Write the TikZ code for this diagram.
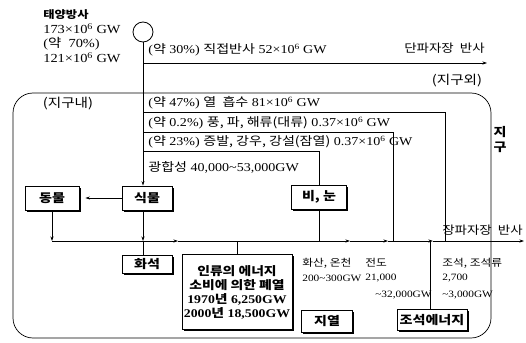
\documentclass[tikz,border=0pt]{standalone}
\usepackage{fontspec}
\setmainfont{Liberation Serif}[FakeStretch=1.17]
\newfontfamily\kr{Noto Sans CJK KR}[FakeStretch=1.17]
\usepackage{tikz}
\usetikzlibrary{arrows.meta,shadows}

\tikzset{
  ebox/.style={draw,fill=white,line width=0.9pt,inner sep=0pt,minimum height=24pt,
    font=\fontsize{12}{14}\selectfont\kr\bfseries,
    drop shadow={shadow xshift=1.8pt,shadow yshift=-1.8pt,fill=black,opacity=1}},
  lbl/.style={anchor=west,inner sep=0pt},
  lblc/.style={inner sep=0pt},
  small/.style={anchor=west,inner sep=0pt,font=\fontsize{9.7}{11}\selectfont},
  smallkr/.style={anchor=west,inner sep=0pt,font=\fontsize{10}{12}\selectfont\kr}
}

\begin{document}
\begin{tikzpicture}[x=1pt,y=-1pt,>={Stealth[length=4.5pt,width=3pt]},line width=0.7pt,
  font=\fontsize{12}{14}\selectfont]
\useasboundingbox (0,0) rectangle (526,342);

% sun and its numbers
\node[draw,circle,minimum size=20pt,inner sep=0pt,line width=0.8pt] (sun) at (143,32) {};
\node[lbl,font=\fontsize{10.5}{13}\selectfont\kr\bfseries] (suntxt) at (43,15) {태양방사};
\node[lbl,font=\fontsize{12.3}{15}\selectfont] (sun173) at (43,29) {173×10\textsuperscript{6} GW};
\node[lbl,font=\fontsize{12.3}{15}\selectfont] (sun70) at (43,44) {({\kr 약}\ \ 70\%)};
\node[lbl,font=\fontsize{12.3}{15}\selectfont] (sun121) at (43,58) {121×10\textsuperscript{6} GW};

% direct reflection
\coordinate (d30) at (143,63);
\coordinate (out30) at (487,63);
\node[lbl] (r30) at (148,50) {({\kr 약} 30\%) {\kr 직접반사} 52×10\textsuperscript{6} GW};
\node[anchor=east,inner sep=0pt,font=\fontsize{11.5}{14}\selectfont\kr] (short) at (485,48) {단파자장\ \ 반사};
\node[lblc,font=\fontsize{12.5}{15}\selectfont\kr] (outer) at (457,81) {(지구외)};
\draw[->] (d30) -- (out30);

% the earth
\draw[rounded corners=20pt] (13,93) rectangle (491,338);
\node[lblc,font=\fontsize{12.5}{15}\selectfont\kr] (inner) at (68,104) {(지구내)};
\node[lblc,font=\fontsize{12}{14}\selectfont\kr\bfseries] (earth1) at (500,132) {지};
\node[lblc,font=\fontsize{12}{14}\selectfont\kr\bfseries] (earth2) at (500,147) {구};

% rows
\node[lbl] (r47) at (148,103) {({\kr 약} 47\%) {\kr 열\ \ 흡수} 81×10\textsuperscript{6}\ GW};
\node[lbl] (r02) at (148,123) {({\kr 약} 0.2\%) {\kr 풍, 파, 해류(대류)} 0.37×10\textsuperscript{6} GW};
\node[lbl] (r23) at (148,142) {({\kr 약} 23\%) {\kr 증발, 강우, 강설(잠열)} 0.37×10\textsuperscript{6}\ GW};
\node[lbl] (photo) at (148,167) {{\kr 광합성} 40,000\textasciitilde53,000GW};
\coordinate (t47) at (143,112);
\coordinate (t02) at (143,132);
\coordinate (t23) at (143,151);

% boxes
\node[ebox,minimum width=54pt] (animal) at (52,198) {동물};
\node[ebox,minimum width=50pt] (plant) at (147,198) {식물};
\node[ebox,minimum width=55pt] (rain) at (319,197) {비, 눈};
\node[ebox,minimum width=50pt,minimum height=18pt] (fossil) at (147,264) {화석};
\node[ebox,minimum width=110pt,minimum height=75pt,align=center,
  font=\fontsize{11.8}{14}\selectfont\bfseries] (waste) at (237,292)
  {{\kr 인류의 에너지}\\{\kr 소비에 의한 폐열}\\1970{\kr 년}\ 6,250GW\\2000{\kr 년}\ 18,500GW};
\node[ebox,minimum width=51pt,minimum height=22pt] (geo) at (327,321) {지열};
\node[ebox,minimum width=70pt,minimum height=21pt] (tide) at (432,320) {조석에너지};

% long wave line
\coordinate (lw0) at (52,241);
\coordinate (lwa) at (178,241);
\coordinate (lwb) at (350,241);
\coordinate (lwc) at (388,241);
\coordinate (lwd) at (433,241);
\coordinate (lwe) at (524,241);
\coordinate (j02) at (393,241);
\coordinate (j47) at (445,241);
\draw[->] (lw0) -- (lwa);
\draw[->] (lwa) -- (lwb);
\draw[->] (lwb) -- (lwc);
\draw[->] (lwc) -- (lwd);
\draw[->] (lwd) -- (lwe);
\node[lbl,font=\fontsize{11.5}{14}\selectfont\kr] (long) at (442,230) {장파자장\ \ 반사};

% flows
\draw[->] (sun.south) -- (sun.south |- plant.north);
\draw (t47) -| (j47);
\draw (t02) -| (j02);
\draw (t23) -| (rain.north);
\draw (rain.south) -- (rain.south |- lw0);
\draw[->,shorten >=6pt] (plant.west) -- (animal.east);
\draw[->] (animal.south) -- (lw0);
\draw[->] (sun.south |- plant.south) -- (sun.south |- lw0);
\draw (sun.south |- lw0) -- (sun.south |- fossil.north);
\draw (waste.north |- lw0) -- (waste.north);
\draw (tide.north -| 430,0) -- (lw0 -| 430,0);

% lower labels
\node[smallkr] (volc) at (302,263) {화산, 온천};
\node[small] (volc2) at (302,278) {200\textasciitilde300GW};
\node[smallkr] (cond) at (365,263) {전도};
\node[small] (cond2) at (365,278) {21,000};
\node[small] (cond3) at (375,295) {\textasciitilde32,000GW};
\node[smallkr] (tidal) at (442,263) {조석, 조석류};
\node[small] (tidal2) at (442,278) {2,700};
\node[small] (tidal3) at (442,295) {\textasciitilde3,000GW};
\end{tikzpicture}
\end{document}
